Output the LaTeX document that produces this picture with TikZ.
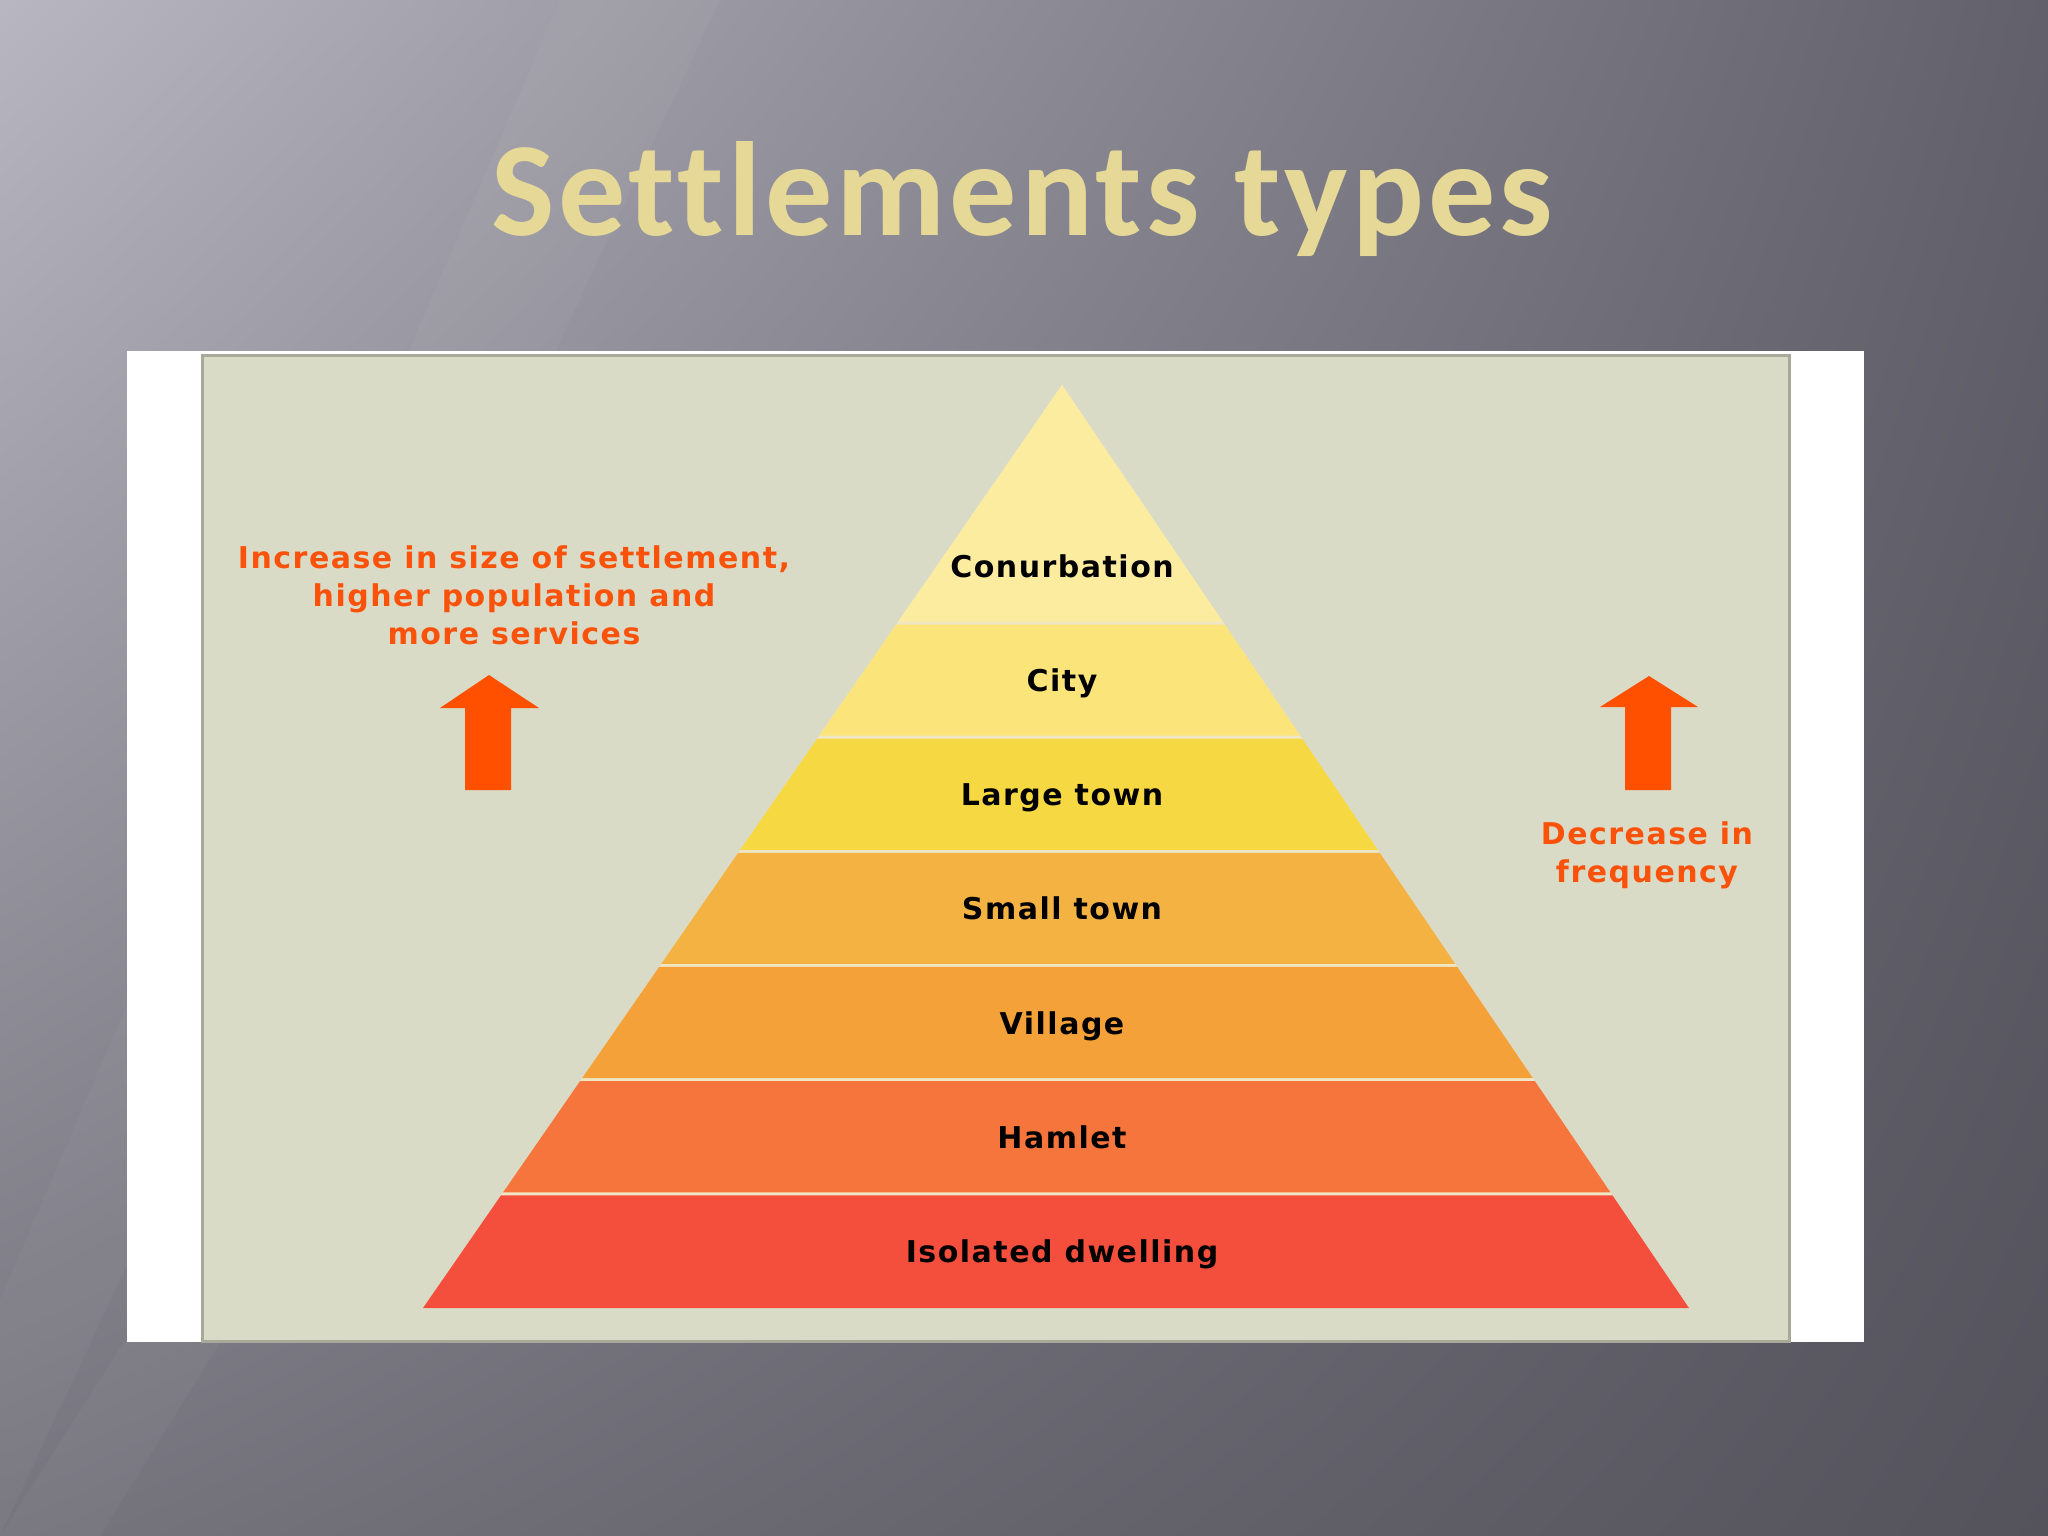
\documentclass[tikz,border=0pt]{standalone}
\usepackage{fontspec}
\usetikzlibrary{calc,shadings}
\newfontfamily\titlefont[LetterSpace=3.0,Ligatures={NoCommon}]{Carlito}
\newfontfamily\labelfont[LetterSpace=5]{DejaVu Sans}
\definecolor{bgA}{RGB}{184,182,192}
\definecolor{bgB}{RGB}{98,96,106}
\definecolor{bgC}{RGB}{118,116,125}
\definecolor{bgD}{RGB}{84,82,91}
\definecolor{panel}{RGB}{218,219,198}
\definecolor{panelline}{RGB}{168,169,152}
\definecolor{gapc}{RGB}{238,230,196}
\definecolor{redtxt}{RGB}{250,82,10}
\definecolor{arrowc}{RGB}{255,80,0}
\definecolor{titlec}{RGB}{230,216,150}
\definecolor{bandA}{RGB}{252,236,160}
\definecolor{bandB}{RGB}{251,229,122}
\definecolor{bandC}{RGB}{245,216,66}
\definecolor{bandD}{RGB}{244,178,66}
\definecolor{bandE}{RGB}{245,161,58}
\definecolor{bandF}{RGB}{245,117,61}
\definecolor{bandG}{RGB}{244,78,60}
\begin{document}
\begin{tikzpicture}[x=1pt,y=-1pt,
  lbl/.style={font=\labelfont\bfseries\fontsize{30}{36}\selectfont, text=black, inner sep=0pt, anchor=base},
  rtxt/.style={font=\labelfont\bfseries\fontsize{30}{36}\selectfont, text=redtxt, inner sep=0pt, anchor=base},
  ttl/.style={font=\titlefont\bfseries\fontsize{134}{160}\selectfont, inner sep=0pt, anchor=base},
  blockarrow/.style={fill=arrowc}]
\path[use as bounding box] (0,0) rectangle (2048,1536);
% background
\shade[upper left=bgA, upper right=bgB, lower left=bgC, lower right=bgD] (0,0) rectangle (2048,1536);
\fill[white, opacity=0.03] (0,1300) -- (560,0) -- (720,0) -- (0,1536) -- cycle;
\fill[white, opacity=0.03] (0,1536) -- (330,1020) -- (420,1020) -- (100,1536) -- cycle;
% title
\node[ttl, text=titlec] (title) at (1022,235) {Settlements types};
% panel
\fill[white] (127,351) rectangle (1864,1342);
\draw[panelline, line width=3pt, fill=panel] (202.5,355.5) rectangle (1789,1341);
% pyramid
\coordinate (A) at (1062,385);
\coordinate (BL) at (423,1308);
\coordinate (BR) at (1689,1308);
\fill[gapc] (A) -- (BL) -- (BR) -- cycle;
\foreach \ya/\yb/\col in {385/621.5/bandA, 624.5/735.7/bandB, 738.7/849.8/bandC, 852.8/964/bandD, 967/1078.2/bandE, 1081.2/1192.3/bandF, 1195.3/1308/bandG}
  \fill[\col] ($(A)!{(\ya-385)/923}!(BL)$) -- ($(A)!{(\ya-385)/923}!(BR)$) -- ($(A)!{(\yb-385)/923}!(BR)$) -- ($(A)!{(\yb-385)/923}!(BL)$) -- cycle;
\node[lbl] (conurbation) at (1062,577) {Conurbation};
\node[lbl] (city) at (1062,691.5) {City};
\node[lbl] (large) at (1062,805.5) {Large town};
\node[lbl] (small) at (1062,919.5) {Small town};
\node[lbl] (village) at (1062,1034) {Village};
\node[lbl] (hamlet) at (1062,1148) {Hamlet};
\node[lbl] (isolated) at (1062,1262) {Isolated dwelling};
% left text and arrow
\node[rtxt] (lt1) at (514,568) {Increase in size of settlement,};
\node[rtxt] (lt2) at (514,606) {higher population and};
\node[rtxt] (lt3) at (514,644) {more services};
\fill[blockarrow] (489,675) -- (539,708) -- (511,708) -- (511,790) -- (465,790) -- (465,708) -- (440,708) -- cycle;
% right text and arrow
\fill[blockarrow] (1649,676) -- (1698,707) -- (1671,707) -- (1671,790) -- (1625,790) -- (1625,707) -- (1600,707) -- cycle;
\node[rtxt] (rt1) at (1647,844) {Decrease in};
\node[rtxt] (rt2) at (1647,882) {frequency};
\end{tikzpicture}
\end{document}
